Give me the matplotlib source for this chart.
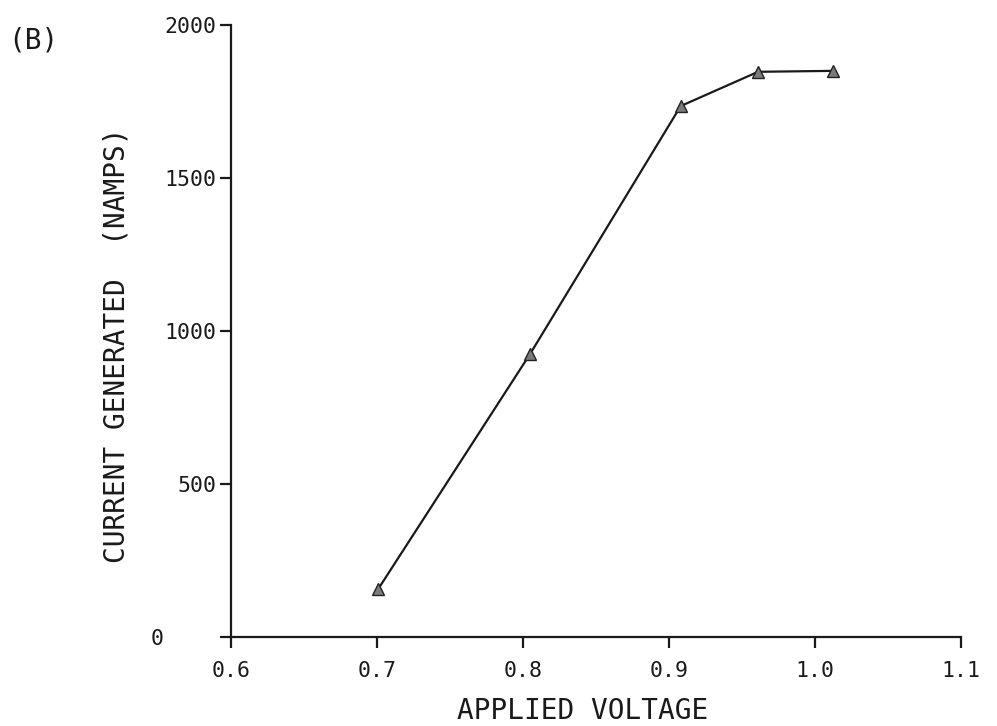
import matplotlib
matplotlib.use("Agg")
import matplotlib.pyplot as plt
from matplotlib.transforms import ScaledTranslation

# Current generated vs. applied voltage
voltage = [0.701, 0.805, 0.908, 0.961, 1.012]
current = [158, 926, 1735, 1847, 1850]

x_ticks = [0.6, 0.7, 0.8, 0.9, 1.0, 1.1]
x_tick_labels = ["0.6", "0.7", "0.8", "0.9", "1.0", "1.1"]
y_ticks = [0, 500, 1000, 1500, 2000]
y_tick_labels = ["0", "500", "1000", "1500", "2000"]

plt.rcParams["font.family"] = ["DejaVu Sans Mono", "DejaVu Sans"]
ink = "#1a1a1a"

fig = plt.figure(figsize=(9.97, 7.26), dpi=100)
ax = fig.add_axes([0.2317, 0.1226, 0.7322, 0.843])

ax.plot(voltage, current, color=ink, linewidth=1.6,
        marker="^", markersize=8, markerfacecolor="#7a7a7a",
        markeredgecolor="#222222", markeredgewidth=1.0)

ax.set_xlim(0.6, 1.1)
ax.set_ylim(0, 2000)
ax.set_xticks(x_ticks)
ax.set_xticklabels(x_tick_labels)
ax.set_yticks(y_ticks)
ax.set_yticklabels(y_tick_labels)

for side in ("top", "right"):
    ax.spines[side].set_visible(False)
for side in ("left", "bottom"):
    ax.spines[side].set_linewidth(1.6)
    ax.spines[side].set_color(ink)

ax.tick_params(axis="both", direction="out", length=8, width=1.6,
               color=ink, labelsize=15.5, labelcolor=ink)
ax.tick_params(axis="x", pad=9)
ax.tick_params(axis="y", pad=2.5)

# the zero label sits further out from the axis
zero_label = ax.get_yticklabels()[0]
zero_label.set_transform(zero_label.get_transform()
                         + ScaledTranslation(-0.53, 0, fig.dpi_scale_trans))

ax.set_xlabel("APPLIED VOLTAGE", fontsize=20, color=ink)
ax.set_ylabel("CURRENT GENERATED  (NAMPS)", fontsize=20, color=ink)
ax.xaxis.set_label_coords(0.481, -0.098)
ax.yaxis.set_label_coords(-0.137, 0.477)

fig.text(33 / 997, 1 - 41 / 726, "(B)", fontsize=20, color=ink,
         ha="center", va="center")

fig.savefig("out.png", dpi=100)
